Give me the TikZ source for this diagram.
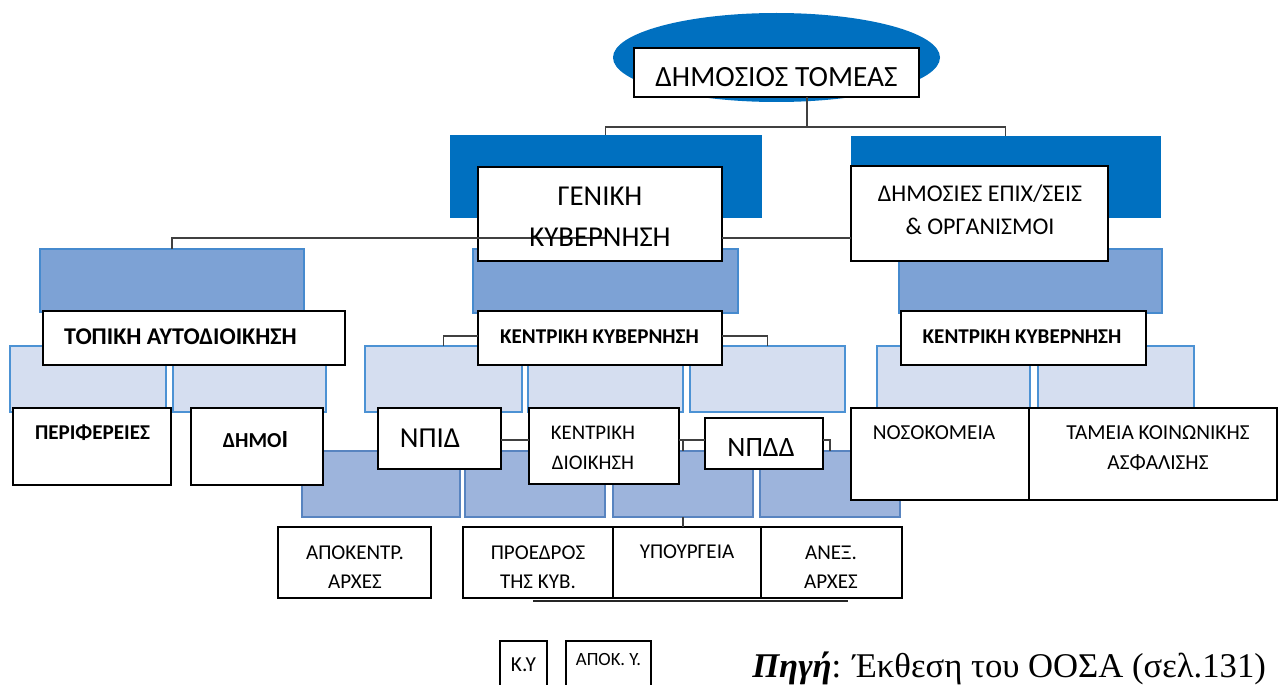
\documentclass[tikz,border=0pt]{standalone}
\usepackage{fontspec}
\setmainfont{Carlito}
\newfontfamily\captionserif{Liberation Serif}
\usetikzlibrary{shapes.geometric}

\definecolor{deepblue}{RGB}{0,112,192}
\definecolor{midfill}{RGB}{125,162,213}
\definecolor{midedge}{RGB}{70,138,206}
\definecolor{lowfill}{RGB}{157,180,220}
\definecolor{lowedge}{RGB}{88,132,192}
\definecolor{palefill}{RGB}{213,222,240}
\definecolor{paleedge}{RGB}{76,146,212}
\definecolor{linkgray}{RGB}{64,64,64}

% font size helper: size and leading in pt
\newcommand\fz[2]{\fontsize{#1}{#2}\selectfont}
% rectangle node from pixel corners: style, name, x1, y1, x2, y2
\newcommand\pxbox[6]{%
  \node[#1, minimum width={(#5-#3)*0.75pt}, minimum height={(#6-#4)*0.75pt}]
    (#2) at ({(#3+#5)/2},{(#4+#6)/2}) {};}

\tikzset{
  tile/.style={rectangle, inner sep=0pt, outer sep=0pt},
  whitebox/.style={tile, draw=black, fill=white, line width=1.3pt},
  darktile/.style={tile, fill=deepblue, draw=deepblue, line width=0.6pt},
  midtile/.style={tile, fill=midfill, draw=midedge, line width=1.1pt},
  lowtile/.style={tile, fill=lowfill, draw=lowedge, line width=1.1pt},
  paletile/.style={tile, fill=palefill, draw=paleedge, line width=1.1pt},
  link/.style={draw=linkgray, line width=1.3pt},
  lbl/.style={inner sep=0pt, align=center, text=black},
}

\begin{document}
\begin{tikzpicture}[x=0.75pt, y=-0.75pt]
\useasboundingbox (0,0) rectangle (1279,685);
\clip (0,0) rectangle (1279,685);

% top oval
\node[ellipse, fill=deepblue, inner sep=0pt,
      minimum width={327*0.75pt}, minimum height={89*0.75pt}] (pubell) at (776.5,57.5) {};

% level 1 and 2 coloured tiles
\pxbox{darktile}{gendark}{450}{135}{761}{217}
\pxbox{darktile}{depdark}{851}{136}{1160}{217}
\pxbox{midtile}{topmed}{40}{249}{304}{312}
\pxbox{midtile}{cenmed}{473}{249}{738}{313}
\pxbox{midtile}{rightmed}{899}{249}{1162}{313}

% level 3 pale tiles
\pxbox{paletile}{ll1}{10}{346}{166}{412}
\pxbox{paletile}{ll2}{173}{346}{326}{412}
\pxbox{paletile}{cl1}{365}{346}{522}{412}
\pxbox{paletile}{cl2}{528}{346}{683}{412}
\pxbox{paletile}{cl3}{690}{346}{845}{412}
\pxbox{paletile}{rl1}{877}{346}{1030}{412}
\pxbox{paletile}{rl2}{1038}{346}{1194}{412}

% level 4 tiles
\pxbox{lowtile}{r4a}{302}{451}{460}{517}
\pxbox{lowtile}{r4b}{465}{451}{605}{517}
\pxbox{lowtile}{r4c}{613}{451}{753}{517}
\pxbox{lowtile}{r4d}{760}{451}{900}{517}

% white label boxes
\pxbox{whitebox}{pub}{634}{48}{919}{97}
\pxbox{whitebox}{gen}{478}{167}{722}{261}
\pxbox{whitebox}{dep}{851}{166}{1108}{261}
\pxbox{whitebox}{topik}{43}{311}{345}{365}
\pxbox{whitebox}{kentc}{478}{311}{722}{365}
\pxbox{whitebox}{kentr}{901}{311}{1146}{365}
\pxbox{whitebox}{perif}{13}{408}{171}{485}
\pxbox{whitebox}{dimoi}{191}{408}{323}{485}
\pxbox{whitebox}{npid}{378}{408}{501}{469}
\pxbox{whitebox}{kdioik}{529}{408}{679}{484}
\pxbox{whitebox}{npdd}{705}{418}{823}{469}
\pxbox{whitebox}{nosok}{851}{408}{1029}{500}
\pxbox{whitebox}{tameia}{1029}{408}{1277}{500}
\pxbox{whitebox}{apok}{278}{527}{431}{598}
\pxbox{whitebox}{proedr}{463}{527}{613}{598}
\pxbox{whitebox}{ypourg}{613}{527}{761}{598}
\pxbox{whitebox}{anex}{761}{527}{902}{598}
\pxbox{whitebox}{ky}{500}{641}{547}{700}
\pxbox{whitebox}{apoky}{566}{641}{651}{700}

% connectors
\coordinate (j1) at (807,127);
\coordinate (j2) at (605.5,238);
\coordinate (j3) at (605.5,336);
\coordinate (j4) at (605.5,440);
\coordinate (b1) at (533,601);
\coordinate (b2) at (848,601);
\draw[link] (j1 |- pub.south) -- (j1);
\draw[link] (gendark.north) |- (j1) -| (depdark.north);
\draw[link] (topmed.north) |- (j2) -- (gen.west |- j2);
\draw[link] (gen.east |- j2) -- (dep.west |- j2);
\draw[link] (cl1.north) |- (kentc.west |- j3);
\draw[link] (kentc.east |- j3) -| (cl3.north);
\draw[link] (npid.east |- j4) -- (kdioik.west |- j4);
\draw[link] (kdioik.east |- j4) -- (npdd.west |- j4);
\draw[link] (r4c.north) -- (r4c.north |- j4);
\draw[link] (npdd.east |- j4) -| (r4d.north);
\draw[link] (r4c.south) -- (r4c.south |- ypourg.north);
\draw[link, draw=black!85, line width=1.6pt] (b1) -- (b2);

% labels
\node[lbl, font=\fz{22}{26}] (tpub) at (776.5,77.5) {ΔΗΜΟΣΙΟΣ ΤΟΜΕΑΣ};
\node[lbl, font=\fz{21.6}{30.75}] (tgen) at (600,216.5) {ΓΕΝΙΚΗ\\ΚΥΒΕΡΝΗΣΗ};
\node[lbl, font=\fz{18}{24.75}] (tdep) at (980,210) {ΔΗΜΟΣΙΕΣ ΕΠΙΧ/ΣΕΙΣ\\\& ΟΡΓΑΝΙΣΜΟΙ};
\node[lbl, font=\bfseries\fz{18}{20}] (ttopik) at (180.5,337) {ΤΟΠΙΚΗ ΑΥΤΟΔΙΟΙΚΗΣΗ};
\node[lbl, font=\bfseries\fz{15.8}{18}] (tkentc) at (599.5,337) {ΚΕΝΤΡΙΚΗ ΚΥΒΕΡΝΗΣΗ};
\node[lbl, font=\bfseries\fz{15.8}{18}] (tkentr) at (1022,337) {ΚΕΝΤΡΙΚΗ ΚΥΒΕΡΝΗΣΗ};
\node[lbl, font=\bfseries\fz{15.8}{18}] (tperif) at (92.5,433) {ΠΕΡΙΦΕΡΕΙΕΣ};
\node[lbl, font=\bfseries\fz{16}{18}] (tdimoi) at (255.5,440) {ΔΗΜΟ{\fz{18.5}{18}I}};
\node[lbl, font=\fz{21.7}{25}] (tnpid) at (430,438) {ΝΠΙΔ};
\node[lbl, font=\fz{21}{25}] (tnpdd) at (761,448) {ΝΠΔΔ};
\node[lbl, font=\fz{15.6}{22.5}] (tkdioik) at (593,448) {ΚΕΝΤΡΙΚΗ\\ΔΙΟΙΚΗΣΗ};
\node[lbl, font=\fz{16}{18}] (tnosok) at (934,433) {ΝΟΣΟΚΟΜΕΙΑ};
\node[lbl, font=\fz{16}{22.5}] (ttameia) at (1158,448) {ΤΑΜΕΙΑ ΚΟΙΝΩΝΙΚΗΣ\\ΑΣΦΑΛΙΣΗΣ};
\node[lbl, font=\fz{15.8}{21.75}] (tapok) at (355,567.5) {ΑΠΟΚΕΝΤΡ.\\ΑΡΧΕΣ};
\node[lbl, font=\fz{15.8}{21.75}] (tproedr) at (538,567.5) {ΠΡΟΕΔΡΟΣ\\ΤΗΣ ΚΥΒ.};
\node[lbl, font=\fz{15.8}{18}] (typourg) at (687,552) {ΥΠΟΥΡΓΕΙΑ};
\node[lbl, font=\fz{15.8}{21.75}] (tanex) at (831,567.5) {ΑΝΕΞ.\\ΑΡΧΕΣ};
\node[lbl, font=\fz{16}{18}] (tky) at (523.5,665) {Κ.Υ};
\node[lbl, font=\fz{14}{16}] (tapoky) at (608.5,660) {ΑΠΟΚ. Υ.};
\node[lbl, anchor=base west, font=\captionserif\fz{26}{30}] (tsrc) at (752,677)
  {\textbf{\textit{Πηγή}}: Έκθεση του ΟΟΣΑ (σελ.131)};
\end{tikzpicture}
\end{document}
